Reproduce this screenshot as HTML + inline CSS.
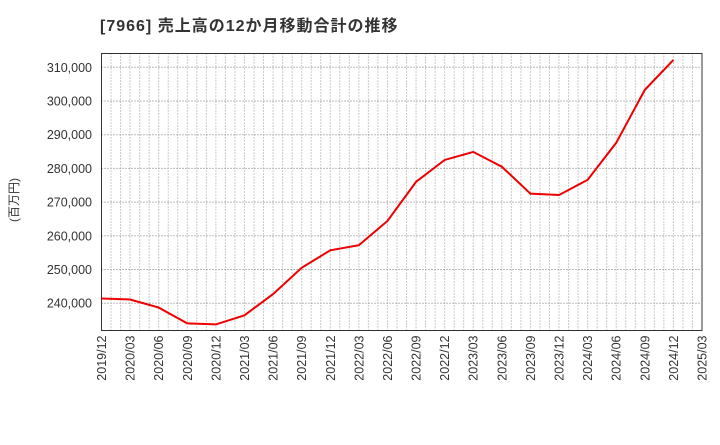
<!DOCTYPE html>
<html><head><meta charset="utf-8"><style>
body{margin:0;background:#fff;font-family:"Liberation Sans","Noto Sans CJK JP",sans-serif}
svg text{font-family:"Liberation Sans","Noto Sans CJK JP",sans-serif}
</style></head><body>
<svg id="chart" width="720" height="440" xmlns="http://www.w3.org/2000/svg">
<text x="100" y="31" font-size="16" letter-spacing="1" font-weight="bold" fill="#333">[7966]  売上高の12か月移動合計の推移</text>
<text transform="translate(18,200) rotate(-90)" font-size="12" fill="#333" text-anchor="middle">(百万円)</text>
<g id="grid"></g><g id="axes"></g><g id="series"></g>
</svg>
<script>
const categories=["2019/12","2020/03","2020/06","2020/09","2020/12","2021/03","2021/06","2021/09","2021/12","2022/03","2022/06","2022/09","2022/12","2023/03","2023/06","2023/09","2023/12","2024/03","2024/06","2024/09","2024/12","2025/03"];
const values=[241400,241100,238700,234000,233700,236400,242700,250500,255700,257200,264400,276000,282500,284900,280500,272500,272100,276600,287600,303300,312200];
const yTicks=[240000,250000,260000,270000,280000,290000,300000,310000];
const tickLabels=["240,000","250,000","260,000","270,000","280,000","290,000","300,000","310,000"];
const L=101.5,R=702,T=53.5,B=330.5;
const NS="http://www.w3.org/2000/svg";
function y(v){return 67.3+(310000-v)*33.7/10000;}
function xq(i){return L+i*(R-L)/(categories.length-1);}
function mk(t,a,p){const e=document.createElementNS(NS,t);for(const k in a)e.setAttribute(k,a[k]);p.appendChild(e);return e;}
const grid=document.getElementById('grid'),axes=document.getElementById('axes'),ser=document.getElementById('series');
const nm=(categories.length-1)*3;
for(let m=1;m<nm;m++){const x=L+m*(R-L)/nm;
 const l=mk('line',{x1:x,x2:x,y1:T,y2:B,stroke:'#999','stroke-dasharray':'1,2','stroke-width':1},grid);
 
 }
yTicks.forEach((v,i)=>{const yy=y(v);
 const l=mk('line',{x1:L,x2:R,y1:yy,y2:yy,stroke:'#777','stroke-dasharray':'1,2','stroke-width':1},grid);
 
 
 const t=mk('text',{x:92,y:yy+4.5,'font-size':12.5,'text-anchor':'end',fill:'#333'},axes);t.textContent=tickLabels[i];
 
 });
categories.forEach((c,i)=>{const x=xq(i);
 const t=mk('text',{transform:`translate(${x+4.5},${B+5}) rotate(-90)`,'font-size':12.5,'text-anchor':'end',fill:'#333'},axes);t.textContent=c;
 
 });
const fr=mk('rect',{x:L,y:T,width:R-L,height:B-T,fill:'none',stroke:'#333','stroke-width':1},axes);


const pl=mk('polyline',{points:values.map((v,i)=>xq(i)+','+y(v)).join(' '),fill:'none',stroke:'#e00','stroke-width':2},ser);


</script>
</body></html>
